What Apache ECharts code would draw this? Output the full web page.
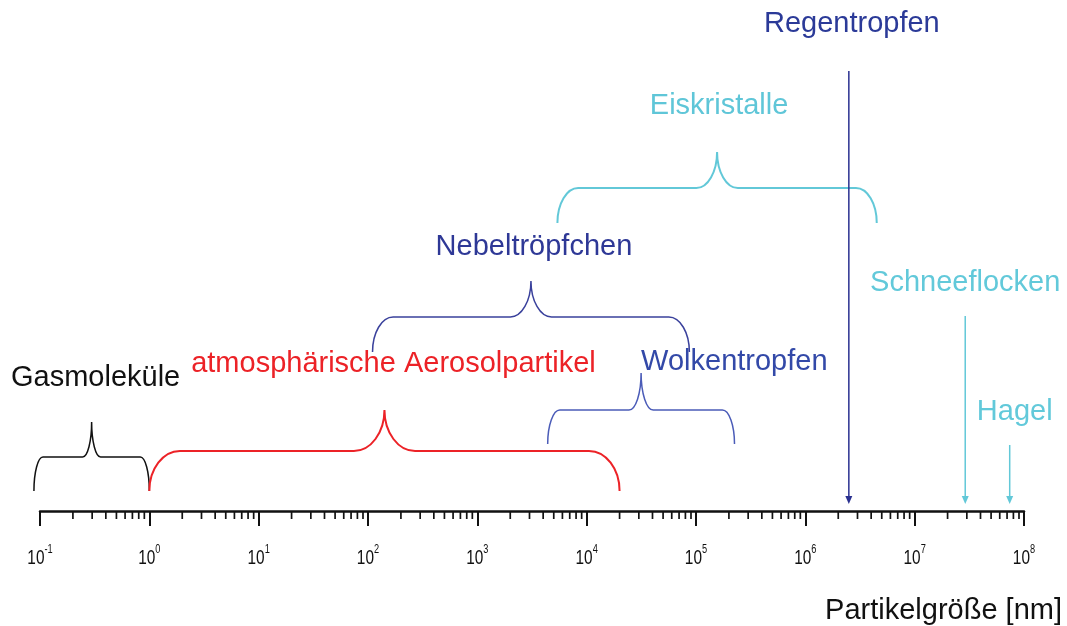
<!DOCTYPE html>
<html>
<head>
<meta charset="utf-8">
<script src="https://cdn.jsdelivr.net/npm/echarts@6/dist/echarts.min.js"></script>
<style>
  html, body { margin: 0; padding: 0; background: #ffffff; }
  #chart { width: 1067px; height: 626px; }
</style>
</head>
<body>
<div id="chart"></div>
<script>
// Size ranges of atmospheric particles, in nanometres
const rangeNames = ['Gasmoleküle', 'atmosphärische Aerosolpartikel', 'Wolkentropfen', 'Nebeltröpfchen', 'Eiskristalle'];
const rangeFrom = [0.088, 1, 4.4e3, 1.1e2, 5.4e3];
const rangeTo = [1, 2.0e4, 2.25e5, 8.7e4, 4.5e6];

// Typical single sizes, in nanometres
const pointNames = ['Regentropfen', 'Schneeflocken', 'Hagel'];
const pointValues = [2.5e6, 2.9e7, 7.4e7];

// Decade exponents labelled on the size axis
const tickExponents = [-1, 0, 1, 2, 3, 4, 5, 6, 7, 8];
const axisTitle = 'Partikelgröße [nm]';

// ---- layout and styling ----
const FONT = '"Liberation Sans", Arial, sans-serif';
const LABEL_SIZE = 29;

// brace heights (px above the axis line) and label placement
const rangeStyle = [
  { color: '#111111', text: '#111111', width: 1.5, bottom: 20, level: 54, tip: 89, lift: 44, dx: 4, align: 'center' },
  { color: '#ec2227', text: '#ec2227', width: 2, bottom: 20, level: 60, tip: 101, lift: 46, dx: 9, align: 'center' },
  { color: '#4b5cb8', text: '#3349a8', width: 1.5, bottom: 67, level: 101, tip: 138, lift: 11, dx: 0, align: 'left' },
  { color: '#3a419c', text: '#2e3896', width: 1.5, bottom: 159, level: 194, tip: 230, lift: 34, dx: 3, align: 'center' },
  { color: '#62c8d8', text: '#5fc6d8', width: 2, bottom: 288, level: 323, tip: 359, lift: 46, dx: 2, align: 'center' }
];

// arrow start heights (px above the axis line) and label placement
const pointStyle = [
  { color: '#2a3190', text: '#2b3a98', top: 440, lift: 47, dx: 3 },
  { color: '#62c8d8', text: '#62c9da', top: 195, lift: 33, dx: 0 },
  { color: '#62c8d8', text: '#62c9da', top: 66, lift: 33, dx: 5 }
];
const ARROW_TIP = 7;

// minor ticks at 2..9 within each decade
const minorTicks = [];
for (let i = 0; i < tickExponents.length - 1; i++) {
  for (let m = 2; m <= 9; m++) minorTicks.push(m * Math.pow(10, tickExponents[i]));
}

function renderRange(params, api) {
  const i = params.dataIndex;
  const s = rangeStyle[i];
  const x0 = api.coord([api.value(0), 0])[0];
  const x1 = api.coord([api.value(1), 0])[0];
  const yb = api.coord([api.value(0), api.value(2)])[1];
  const yl = api.coord([api.value(0), api.value(3)])[1];
  const yt = api.coord([api.value(0), api.value(4)])[1];
  const xc = (x0 + x1) / 2;
  const r = Math.max(9, (x1 - x0) * 0.065);
  const k = 0.5523;
  const dy = yb - yl;
  const dt = yl - yt;
  const d = [
    'M', x0, yb,
    'C', x0, yb - k * dy, x0 + r - k * r, yl, x0 + r, yl,
    'L', xc - r, yl,
    'C', xc - r + k * r, yl, xc, yt + k * dt, xc, yt,
    'C', xc, yt + k * dt, xc + r - k * r, yl, xc + r, yl,
    'L', x1 - r, yl,
    'C', x1 - r + k * r, yl, x1, yb - k * dy, x1, yb
  ].join(' ');
  return {
    type: 'group',
    children: [
      { type: 'path', shape: { pathData: d }, style: { stroke: s.color, fill: null, lineWidth: s.width } },
      {
        type: 'text',
        x: xc + s.dx,
        y: yt - s.lift,
        style: {
          text: rangeNames[i], fill: s.text, fontSize: LABEL_SIZE, fontFamily: FONT,
          align: s.align, verticalAlign: 'middle'
        }
      }
    ]
  };
}

function renderPoint(params, api) {
  const i = params.dataIndex;
  const s = pointStyle[i];
  const top = api.coord([api.value(0), api.value(1)]);
  const tip = api.coord([api.value(0), ARROW_TIP]);
  const x = top[0];
  return {
    type: 'group',
    children: [
      { type: 'line', shape: { x1: x, y1: top[1], x2: x, y2: tip[1] - 6 }, style: { stroke: s.color, lineWidth: 1.5 } },
      { type: 'polygon', shape: { points: [[x - 3.5, tip[1] - 8], [x + 3.5, tip[1] - 8], [x, tip[1]]] }, style: { fill: s.color } },
      {
        type: 'text',
        x: x + s.dx,
        y: top[1] - s.lift,
        style: {
          text: pointNames[i], fill: s.text, fontSize: LABEL_SIZE, fontFamily: FONT,
          align: 'center', verticalAlign: 'middle'
        }
      }
    ]
  };
}

function renderMinorTick(params, api) {
  const p = api.coord([api.value(0), 0]);
  return { type: 'line', shape: { x1: p[0], y1: p[1], x2: p[0], y2: p[1] + 8 }, style: { stroke: '#111111', lineWidth: 1.7 } };
}

// decade labels "10^n", drawn condensed below each major tick
function renderTickLabel(params, api) {
  const p = api.coord([api.value(0), 0]);
  const e = tickExponents[params.dataIndex];
  return {
    type: 'text',
    x: p[0],
    y: p[1] + 32.5,
    scaleX: 0.77,
    style: {
      text: '{b|10}{e|' + e + '}',
      align: 'center',
      verticalAlign: 'top',
      rich: {
        b: { fontSize: 20, fontFamily: FONT, fill: '#111111', lineHeight: 30 },
        e: { fontSize: 12, fontFamily: FONT, fill: '#111111', lineHeight: 12, verticalAlign: 'top' }
      }
    }
  };
}

const chart = echarts.init(document.getElementById('chart'), null, { renderer: 'canvas' });
chart.setOption({
  animation: false,
  backgroundColor: '#ffffff',
  grid: { left: 40, right: 43, top: 0, bottom: 115, containLabel: false, outerBoundsMode: 'none' },
  xAxis: {
    type: 'log',
    logBase: 10,
    min: Math.pow(10, tickExponents[0]),
    max: Math.pow(10, tickExponents[tickExponents.length - 1]),
    interval: 1,
    splitNumber: tickExponents.length - 1,
    splitLine: { show: false },
    axisLine: { lineStyle: { color: '#111111', width: 2.5 } },
    axisTick: { length: 15, lineStyle: { color: '#111111', width: 2 } },
    axisLabel: { show: false }
  },
  yAxis: { type: 'value', min: 0, max: 511, show: false },
  graphic: [{
    type: 'text',
    right: 5,
    top: 596,
    style: { text: axisTitle, fill: '#111111', fontSize: LABEL_SIZE, fontFamily: FONT }
  }],
  series: [
    {
      type: 'custom', name: 'minorTicks', clip: false, silent: true,
      renderItem: renderMinorTick,
      encode: { x: 0, y: 1 },
      data: minorTicks.map(v => [v, 0])
    },
    {
      type: 'custom', name: 'tickLabels', clip: false, silent: true,
      renderItem: renderTickLabel,
      encode: { x: 0, y: 1 },
      data: tickExponents.map(e => [Math.pow(10, e), 0])
    },
    {
      type: 'custom', name: 'ranges', clip: false, silent: true,
      renderItem: renderRange,
      encode: { x: [0, 1], y: [2, 3, 4] },
      data: rangeNames.map((n, i) => [rangeFrom[i], rangeTo[i], rangeStyle[i].bottom, rangeStyle[i].level, rangeStyle[i].tip])
    },
    {
      type: 'custom', name: 'points', clip: false, silent: true,
      renderItem: renderPoint,
      encode: { x: 0, y: 1 },
      data: pointValues.map((v, i) => [v, pointStyle[i].top])
    }
  ]
});
</script>
</body>
</html>
